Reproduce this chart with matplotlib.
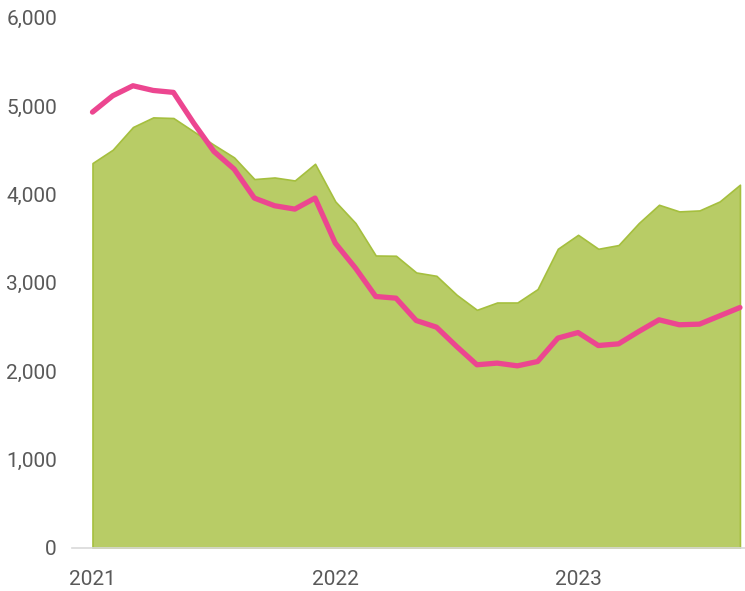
import matplotlib.pyplot as plt
import numpy as np

# monthly values, Jan 2021 - Sep 2023
area_values = [4355, 4506, 4763, 4872, 4865, 4713, 4562, 4419, 4174, 4192, 4158, 4347,
               3921, 3676, 3309, 3306, 3117, 3079, 2864, 2694, 2777, 2777, 2929, 3385,
               3543, 3385, 3427, 3676, 3883, 3808, 3819, 3921, 4110]
line_values = [4932, 5117, 5230, 5177, 5155, 4808, 4487, 4287, 3959, 3872, 3834, 3959,
               3449, 3166, 2845, 2826, 2573, 2498, 2279, 2072, 2091, 2060, 2109, 2374,
               2437, 2290, 2309, 2449, 2581, 2525, 2532, 2626, 2720]
year_labels = ['2021', '2022', '2023']
y_ticks = [0, 1000, 2000, 3000, 4000, 5000, 6000]

plt.rcParams['font.family'] = ['Roboto', 'DejaVu Sans']

x = np.arange(len(area_values))

fig = plt.figure(figsize=(7.45, 5.91), dpi=100)
ax = fig.add_axes([0.097, 0.073, 0.903, 0.897])

ax.fill_between(x, 0, area_values, color='#b8cc66', edgecolor='#a5bf3e', linewidth=1.2, zorder=2)
ax.plot(x, line_values, color='#ec4690', linewidth=3.8, solid_capstyle='round',
        solid_joinstyle='round', zorder=3)

ax.set_xlim(-1, len(x) - 0.75)
ax.set_ylim(0, 6000)
ax.set_yticks(y_ticks)
ax.set_yticklabels([f'{v:,}' for v in y_ticks])
ax.set_xticks([0, 12, 24])
ax.set_xticklabels(year_labels)
ax.tick_params(length=0, labelsize=15, colors='#595959')
ax.tick_params(axis='x', pad=16)
ax.tick_params(axis='y', pad=11)

for side in ['top', 'right', 'left']:
    ax.spines[side].set_visible(False)
ax.spines['bottom'].set_color('#d9d9d9')
ax.spines['bottom'].set_linewidth(1.2)

fig.savefig('out.png', dpi=100)
